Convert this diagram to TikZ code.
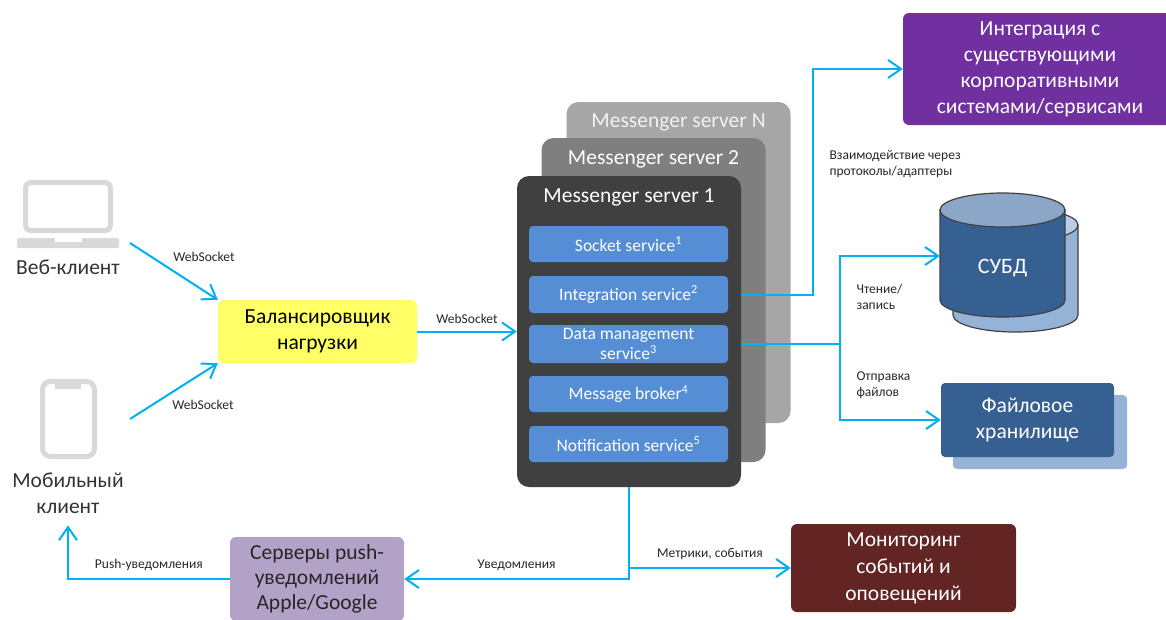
\documentclass[tikz,border=0pt]{standalone}
\usepackage{fontspec}
\setmainfont{Carlito}
\usetikzlibrary{arrows.meta,positioning,calc}

\definecolor{arrowblue}{HTML}{00B0F0}
\definecolor{icongray}{HTML}{D9D9D9}
\definecolor{lbyellow}{HTML}{FFFF66}
\definecolor{srvNgray}{HTML}{A6A6A6}
\definecolor{srv2gray}{HTML}{7F7F7F}
\definecolor{srv1gray}{HTML}{404040}
\definecolor{servblue}{HTML}{558ED5}
\definecolor{corppurple}{HTML}{7030A0}
\definecolor{dbblue}{HTML}{376092}
\definecolor{dbtop}{HTML}{8BA6C6}
\definecolor{dbback}{HTML}{95B3D7}
\definecolor{dbbacktop}{HTML}{B9CDE5}
\definecolor{cyledge}{HTML}{404040}
\definecolor{pushlilac}{HTML}{B3A2C7}
\definecolor{monbrown}{HTML}{632523}

\begin{document}
\begin{tikzpicture}[x=1pt, y=-1pt, >={Straight Barb[length=13pt,width=18pt]},
  flow/.style={->, line width=2pt, draw=arrowblue},
  bigtext/.style={font=\fontsize{21.5}{26}\selectfont},
  flowlabel/.style={font=\fontsize{13.5}{16}\selectfont, align=left, text=black!85},
  box/.style={rectangle, rounded corners=6pt, align=center, inner sep=2pt, bigtext},
  client/.style={bigtext, align=center, text=black!80},
  server/.style={rectangle, rounded corners=12pt, minimum width=224pt},
  srvtitle/.style={text=white, font=\fontsize{21.5}{25}\selectfont},
  service/.style={rectangle, rounded corners=4pt, fill=servblue, minimum width=199pt,
    minimum height=36pt, text=white, align=center, inner sep=1pt,
    font=\fontsize{17.5}{20}\selectfont}]

  \useasboundingbox (0,0) rectangle (1166,619);
  \clip (0,0) rectangle (1166,619);

  % Clients
  \node[draw=icongray, line width=5pt, rounded corners=5pt, minimum width=85pt, minimum height=48pt] (laptop) at (68,206.5) {};
  \fill[icongray, rounded corners=2pt] (17,238) rectangle (119,248);
  \fill[white] (55,237) rectangle (82,242);
  \node[client] (web) at (68,267) {Веб-клиент};

  \node[draw=icongray, line width=5pt, rounded corners=8pt, minimum width=52pt, minimum height=75pt] (phone) at (68.5,419) {};
  \fill[icongray] (55,380) rectangle (81,389);
  \node[client] (mobile) at (68,493.5) {Мобильный\\клиент};

  % Load balancer
  \node[box, fill=lbyellow, minimum width=199pt, minimum height=63pt] (balancer) at (317.5,331.5) {Балансировщик\\нагрузки};

  % Messenger servers (back to front)
  \node[server, fill=srvNgray, minimum height=321pt] (srvN) at (678.5,262.5) {};
  \node[srvtitle, text=white!95!black] (srvNtitle) at ([yshift=-21pt]srvN.north) {Messenger server N};
  \node[server, fill=srv2gray, minimum height=324pt] (srv2) at (653.5,300) {};
  \node[srvtitle] (srv2title) at ([yshift=-22pt]srv2.north) {Messenger server 2};
  \node[server, fill=srv1gray, minimum height=311pt] (srv1) at (629,331.5) {};
  \node[srvtitle] (srv1title) at ([yshift=-22pt]srv1.north) {Messenger server 1};

  % Services inside server 1
  \node[service] (sock) at (628.5,244) {Socket service\textsuperscript{1}};
  \node[service, minimum height=37pt] (integ) at (628.5,294.5) {Integration service\textsuperscript{2}};
  \node[service, minimum height=38pt] (datamgmt) at (628.5,344) {Data management\\service\textsuperscript{3}};
  \node[service] (broker) at (628.5,394) {Message broker\textsuperscript{4}};
  \node[service] (notif) at (628.5,444) {Notification service\textsuperscript{5}};

  % Corporate systems
  \node[box, fill=corppurple, text=white, minimum width=274pt, minimum height=112pt] (corp) at (1040,69)
    {Интеграция с\\существующими\\корпоративными\\системами/сервисами};

  % DBMS cylinder
  \filldraw[fill=dbback, draw=cyledge, line width=1.2pt] (953,225) -- (953,315)
    arc[start angle=180, end angle=0, x radius=62.5, y radius=17] -- (1078,225) -- cycle;
  \filldraw[fill=dbbacktop, draw=cyledge, line width=1.2pt] (1015.5,225) ellipse[x radius=62.5, y radius=17];
  \filldraw[fill=dbblue, draw=cyledge, line width=1.2pt] (940,210) -- (940,300)
    arc[start angle=180, end angle=0, x radius=62.5, y radius=17] -- (1065,210) -- cycle;
  \filldraw[fill=dbtop, draw=cyledge, line width=1.2pt] (1002.5,210) ellipse[x radius=62.5, y radius=17];
  \node[text=white, font=\fontsize{22}{26}\selectfont, minimum width=125pt, text height=34pt, text depth=0pt, inner sep=0pt] (dbms) at (1002.5,256) {СУБД};

  % File storage
  \node[rectangle, rounded corners=4pt, fill=dbback, minimum width=174pt, minimum height=74pt] (filesback) at (1040,432) {};
  \node[box, rounded corners=4pt, fill=dbblue, text=white, minimum width=173pt, minimum height=74pt] (files) at (1027.5,420) {Файловое\\хранилище};

  % Push servers and monitoring
  \node[box, fill=pushlilac, text=black!85, minimum width=174pt, minimum height=84pt, font=\fontsize{21.5}{25}\selectfont] (push) at (317,579) {Серверы push-\\уведомлений\\Apple/Google};
  \node[box, fill=monbrown, text=white, minimum width=225pt, minimum height=88pt, font=\fontsize{21.5}{27}\selectfont] (monitor) at (903.5,568) {Мониторинг\\событий и\\оповещений};

  % Connectors
  \draw[flow] ([xshift=17pt,yshift=-10pt]laptop.south east) -- (balancer.north west)
    node[flowlabel, pos=0.5, xshift=30pt, yshift=15pt] {WebSocket};
  \draw[flow] ([xshift=33pt]phone.east) -- (balancer.south west)
    node[flowlabel, pos=0.5, xshift=29pt, yshift=-14pt] {WebSocket};
  \draw[flow] (balancer.east) -- (srv1.west) node[flowlabel, midway, above=4pt] {WebSocket};

  \draw[flow] (srv1.east |- integ.east) -- ++(72,0) |- (corp.west);
  \node[flowlabel, anchor=west] (protolabel) at (826,164) {Взаимодействие через\\протоколы/адаптеры};

  \draw[flow] (srv1.east |- datamgmt.east) -- ++(99,0) coordinate (split) |- (dbms.west);
  \draw[flow] (split) |- (files.west);
  \node[flowlabel, anchor=west] (rwlabel) at (853,297) {Чтение/\\запись};
  \node[flowlabel, anchor=west] (sendlabel) at (853,385) {Отправка\\файлов};

  \draw[flow] (srv1.south) |- (push.east) node[flowlabel, pos=0.75, above=4pt] {Уведомления};
  \draw[flow] (srv1.south |- monitor.west) -- (monitor.west) node[flowlabel, midway, above=4pt] {Метрики, события};
  \draw[flow, shorten >=8pt] (push.west) -| (mobile.south) node[flowlabel, pos=0.25, above=4pt] {Push-уведомления};

\end{tikzpicture}
\end{document}
